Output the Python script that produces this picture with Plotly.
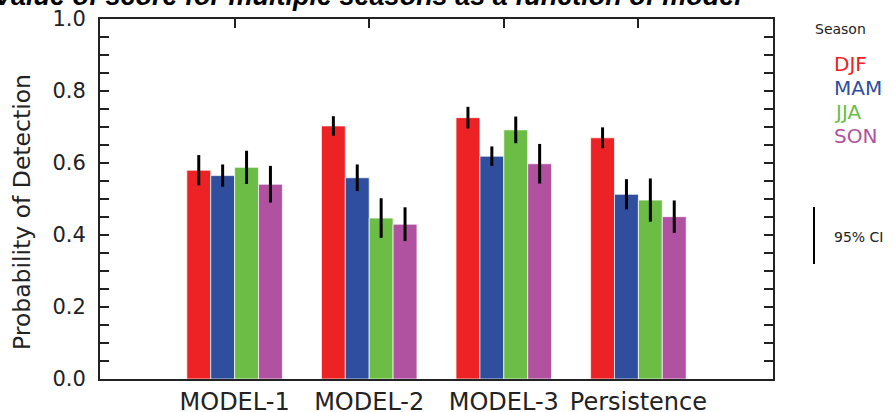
import plotly.graph_objects as go

models = ["MODEL-1", "MODEL-2", "MODEL-3", "Persistence"]
model_pos = [1, 2, 3, 4]
seasons = ["DJF", "MAM", "JJA", "SON"]
colors = ["#ED2224", "#2F4F9E", "#6CBD46", "#B152A0"]

djf = [0.580, 0.703, 0.726, 0.670]
mam = [0.565, 0.559, 0.619, 0.513]
jja = [0.588, 0.447, 0.692, 0.497]
son = [0.541, 0.430, 0.598, 0.451]
values = [djf, mam, jja, son]

djf_ci = [0.042, 0.027, 0.030, 0.029]
mam_ci = [0.031, 0.037, 0.027, 0.042]
jja_ci = [0.046, 0.055, 0.037, 0.060]
son_ci = [0.051, 0.047, 0.055, 0.045]
cis = [djf_ci, mam_ci, jja_ci, son_ci]

y_ticks = [0.0, 0.2, 0.4, 0.6, 0.8, 1.0]
y_ticktext = ["0.0", "0.2", "0.4", "0.6", "0.8", "1.0"]

W, H = 894, 412
L, R, T, B = 100, 121, 19, 33
PW, PH = W - L - R, H - T - B

def px(x):
    return (x - L) / PW

def py(y):
    return (H - B - y) / PH

FONT = "DejaVu Sans"

fig = go.Figure()
for s, v, c, e in zip(seasons, values, colors, cis):
    fig.add_trace(go.Bar(
        x=model_pos, y=v, name=s,
        marker=dict(color=c, line=dict(color="rgba(255,255,255,0.7)", width=1)),
        error_y=dict(type="data", array=e, visible=True, color="black",
                     thickness=3, width=0),
        showlegend=False,
    ))

# invisible trace to activate top axis
fig.add_trace(go.Scatter(x=[0, 5], y=[0, 0], xaxis="x2", mode="lines",
                         line=dict(width=0), hoverinfo="skip", showlegend=False))

fig.update_layout(
    width=W, height=H,
    margin=dict(l=L, r=R, t=T, b=B, pad=0, autoexpand=False),
    paper_bgcolor="white", plot_bgcolor="white",
    barmode="group", bargap=0.29, bargroupgap=0,
    font=dict(family=FONT, color="#222222"),
    xaxis=dict(range=[0, 5], tickmode="array", tickvals=model_pos, ticktext=models,
               ticks="", showline=True, linecolor="#222222", linewidth=2, mirror=True,
               showgrid=False, zeroline=False, automargin=False,
               tickfont=dict(size=24, family=FONT, color="#222222"),
               ticklabelstandoff=0),
    xaxis2=dict(range=[0, 5], overlaying="x", side="top", tickmode="array",
                tickvals=model_pos, ticks="inside", ticklen=9, tickwidth=1.5,
                tickcolor="#222222", showticklabels=False, showgrid=False,
                zeroline=False, showline=False, automargin=False),
    yaxis=dict(range=[0, 1], tickmode="array", tickvals=y_ticks, ticktext=y_ticktext,
               ticks="inside", ticklen=9, tickwidth=1.5, tickcolor="#222222",
               minor=dict(dtick=0.05, ticks="inside", ticklen=9, tickwidth=1.5,
                          tickcolor="#222222", showgrid=False),
               showline=True, linecolor="#222222", linewidth=2, mirror="ticks",
               showgrid=False, zeroline=False, automargin=False,
               tickfont=dict(size=21, family=FONT, color="#222222"),
               ticklabelstandoff=8),
)

ann = []
ann.append(dict(text="<b><i>Value of score for multiple seasons as a function of model</i></b>",
                xref="paper", yref="paper", x=px(-8), y=py(13), xanchor="left",
                yanchor="bottom", showarrow=False,
                font=dict(size=27, family="Liberation Sans", color="black")))
ann.append(dict(text="Probability of Detection", textangle=-90, xref="paper", yref="paper",
                x=px(22), y=py(212), xanchor="center", yanchor="middle", showarrow=False,
                font=dict(size=23.5, family=FONT, color="#222222")))
ann.append(dict(text="Season", xref="paper", yref="paper", x=px(813), y=py(29),
                xanchor="left", yanchor="middle", showarrow=False,
                font=dict(size=14, family=FONT, color="#222222")))
for i, (s, c) in enumerate(zip(seasons, colors)):
    ann.append(dict(text=s, xref="paper", yref="paper", x=px(832), y=py(64 + 24 * i),
                    xanchor="left", yanchor="middle", showarrow=False,
                    font=dict(size=20, family=FONT, color=c)))
ann.append(dict(text="95% CI", xref="paper", yref="paper", x=px(832), y=py(237),
                xanchor="left", yanchor="middle", showarrow=False,
                font=dict(size=14, family=FONT, color="#222222")))
fig.update_layout(annotations=ann)
fig.add_shape(type="line", xref="paper", yref="paper", x0=px(814), x1=px(814),
              y0=py(207), y1=py(264), line=dict(color="black", width=2))

fig.write_html("out.html")
